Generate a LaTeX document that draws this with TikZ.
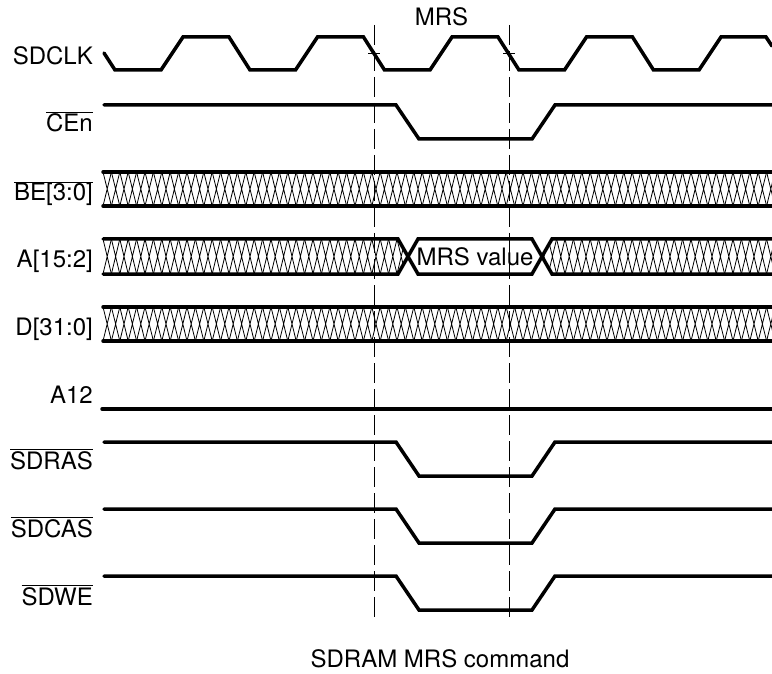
\documentclass[tikz,border=0pt]{standalone}
\usepackage{fontspec}
\setmainfont{TeX Gyre Heros}
\usepackage{tikz}
\usetikzlibrary{positioning}
\newcommand{\nsig}[1]{$\overline{\mbox{#1}}$}

\begin{document}
\begin{tikzpicture}[
  x=1pt, y=-1pt,
  font=\fontsize{24}{28}\selectfont,
  wave/.style={line width=3.5pt, line cap=round},
  hatch/.style={line width=0.8pt},
  guide/.style={line width=1pt, dash pattern=on 20pt off 6pt},
  lbl/.style={anchor=base east, inner sep=0pt}
]
\useasboundingbox (0,0) rectangle (772,674);

% Signal names
\node[lbl] (sdclk) at (93,65)  {SDCLK};
\node[lbl] (cen)   at (93,132) {\nsig{CEn}};
\node[lbl] (be)    at (93,201) {\nsig{BE[3:0]}};
\node[lbl] (addr)  at (93,268) {A[15:2]};
\node[lbl] (data)  at (93,335) {D[31:0]};
\node[lbl] (a12)   at (93,403) {A12};
\node[lbl] (sdras) at (93,469) {\nsig{SDRAS}};
\node[lbl] (sdcas) at (93,537) {\nsig{SDCAS}};
\node[lbl] (sdwe)  at (93,605) {\nsig{SDWE}};

% MRS window
\node[anchor=base, inner sep=0pt] (mrs) at (441.5,26) {MRS};
\draw[guide] (374,25) -- (374,617);
\draw[guide] (509,25) -- (509,617);
\draw[line width=0.8pt] (368,53) -- (380,53) (503,53) -- (515,53);

% Clock
\draw[wave] (104,53) -- (115,70)
  \foreach \r in {161,295.5,430,564.5} { -- (\r,70) -- ({\r+22},37) -- ({\r+68},37) -- ({\r+89},70) }
  -- (699,70) -- (721,37) -- (766,37) -- (772,46);

% Active-low strobes
\foreach \y in {105,442,509,576}
  \draw[wave] (104,\y) -- (396,\y) -- (419,{\y+34}) -- (532,{\y+34}) -- (555,\y) -- (772,\y);

\draw[wave] (102,409) -- (772,409);

% Don't-care buses
\foreach \t in {172,307} {
  \begin{scope}
    \clip (103,\t) rectangle (772,{\t+34});
    \foreach \x in {103,111.4,...,780}
      \draw[hatch] (\x,\t) -- ({\x+8.4},{\t+34}) ({\x+8.4},\t) -- (\x,{\t+34});
  \end{scope}
  \draw[wave] (103,\t) -- (772,\t) (103,{\t+34}) -- (772,{\t+34});
}

% Address bus
\begin{scope}
  \clip (103,239) -- (398,239) -- (408,256.5) -- (398,274) -- (103,274) -- cycle
        (772,239) -- (552,239) -- (542,256.5) -- (552,274) -- (772,274) -- cycle;
  \foreach \x in {103,111.4,...,780}
    \draw[hatch] (\x,239) -- ({\x+8.4},274) ({\x+8.4},239) -- (\x,274);
\end{scope}
\draw[wave] (103,239) -- (398,239) -- (418,274) -- (532,274) -- (552,239) -- (772,239);
\draw[wave] (103,274) -- (398,274) -- (418,239) -- (532,239) -- (552,274) -- (772,274);
\node (value) at (475,256.5) {MRS value};

\node[anchor=base, inner sep=0pt] (caption) at (440,667) {SDRAM MRS command};
\end{tikzpicture}
\end{document}
